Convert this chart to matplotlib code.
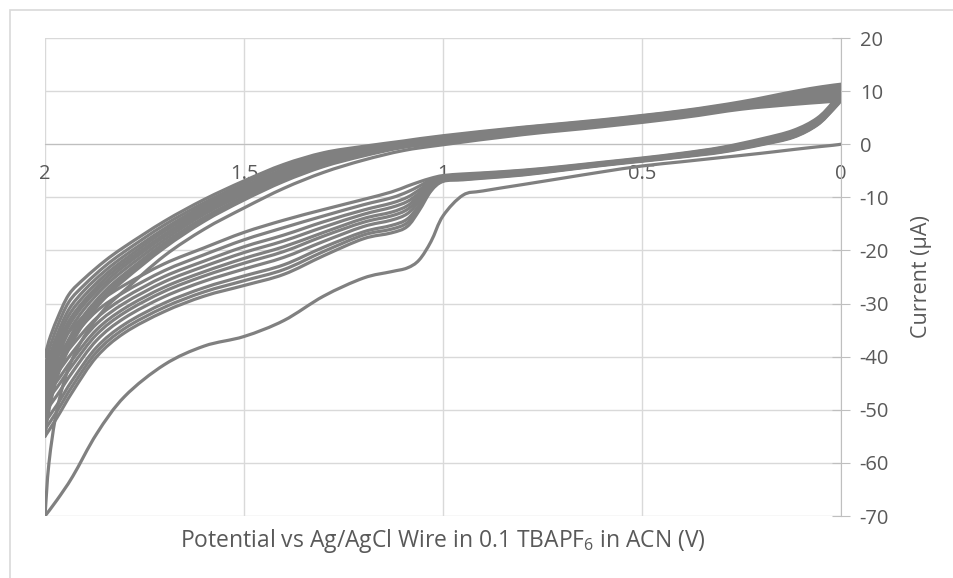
import numpy as np
import matplotlib
matplotlib.use("Agg")
import matplotlib.pyplot as plt
from matplotlib.patches import Rectangle, PathPatch
from matplotlib.path import Path

plt.rcParams['font.family'] = ['Open Sans', 'DejaVu Sans']
plt.rcParams['axes.unicode_minus'] = False

# potential grid (V) for the scan towards 2 V and back to 0 V
fwd_x = [0.0, 0.02, 0.06, 0.12, 0.2, 0.3, 0.4, 0.5, 0.6, 0.7, 0.8, 0.9, 0.95, 1.0,
         1.03, 1.06, 1.09, 1.13, 1.2, 1.3, 1.4, 1.5, 1.6, 1.7, 1.8, 1.87, 1.93, 1.97, 2.0]
rev_x = [2.0, 1.99, 1.97, 1.94, 1.9, 1.85, 1.8, 1.7, 1.6, 1.5, 1.4, 1.3, 1.2, 1.1, 1.0,
         0.8, 0.6, 0.4, 0.25, 0.12, 0.05, 0.0]

# current (uA), cycle 1 .. 11
c1_fwd = [0.0, -0.2, -0.5, -1.0, -1.7, -2.5, -3.3, -4.1, -5.2, -6.4, -7.6, -8.8, -9.6, -13.5,
          -18.3, -21.8, -23.3, -24.0, -25.2, -28.6, -33.2, -36.2, -38.0, -41.5, -47.5, -54.5, -62.5, -67.0, -70.0]
c1_rev = [-70, -60, -50, -42, -36, -31, -27.5, -21, -16, -12, -8.3, -5.3, -3.0, -1.2, -0.1,
          1.8, 3.3, 5.0, 6.6, 7.5, 7.9, 8.2]

c2_fwd = [8.2, 6.5, 3.6, 1.3, -0.1, -1.5, -2.4, -3.2, -4.0, -4.9, -5.8, -6.4, -6.7, -7.0,
          -8.8, -12.5, -15.5, -16.7, -17.8, -21.0, -24.5, -26.6, -28.6, -31.5, -35.5, -40.0, -46.5, -51.5, -55.0]
c2_rev = [-55.0, -50.0, -44.0, -38.5, -33.5, -29.0, -25.5, -19.5, -14.5, -10.5, -7.0, -4.2, -2.2, -0.6, 0.3,
          2.2, 3.6, 5.3, 6.9, 7.7, 8.1, 8.4]

c3_fwd = [8.4, 6.6, 3.7, 1.4, 0.0, -1.4, -2.3, -3.1, -3.9, -4.8, -5.7, -6.3, -6.6, -6.9,
          -8.6, -12.0, -14.8, -16.0, -17.1, -20.2, -23.6, -25.7, -27.8, -30.7, -34.7, -39.1, -45.4, -50.3, -53.7]
c3_rev = [-53.7, -48.8, -43.0, -37.6, -32.8, -28.4, -24.9, -19.1, -14.1, -10.2, -6.7, -4.0, -2.0, -0.5, 0.4,
          2.3, 3.7, 5.4, 7.0, 7.9, 8.3, 8.7]

c4_fwd = [8.7, 6.8, 3.8, 1.5, 0.1, -1.3, -2.3, -3.1, -3.9, -4.8, -5.6, -6.2, -6.5, -6.8,
          -8.4, -11.5, -14.1, -15.3, -16.5, -19.4, -22.7, -24.8, -27.0, -29.9, -33.9, -38.2, -44.3, -49.1, -52.3]
c4_rev = [-52.3, -47.7, -42.0, -36.7, -32.0, -27.7, -24.4, -18.6, -13.8, -9.9, -6.4, -3.7, -1.9, -0.4, 0.5,
          2.4, 3.8, 5.5, 7.1, 8.1, 8.6, 9.0]

c5_fwd = [9.0, 7.0, 4.0, 1.7, 0.2, -1.2, -2.2, -3.0, -3.8, -4.7, -5.5, -6.1, -6.4, -6.7,
          -8.1, -10.8, -13.1, -14.3, -15.5, -18.3, -21.3, -23.5, -25.8, -28.7, -32.7, -36.9, -42.8, -47.3, -50.4]
c5_rev = [-50.4, -46.0, -40.6, -35.3, -30.9, -26.8, -23.6, -18.0, -13.2, -9.4, -6.0, -3.4, -1.6, -0.2, 0.7,
          2.5, 3.9, 5.6, 7.2, 8.4, 8.9, 9.4]

c6_fwd = [9.4, 7.1, 4.1, 1.8, 0.4, -1.1, -2.1, -2.9, -3.7, -4.6, -5.4, -6.0, -6.2, -6.5,
          -7.8, -10.2, -12.3, -13.5, -14.7, -17.3, -20.2, -22.4, -24.8, -27.7, -31.7, -35.8, -41.5, -45.8, -48.7]
c6_rev = [-48.7, -44.5, -39.4, -34.2, -30.0, -26.1, -22.9, -17.4, -12.8, -9.0, -5.7, -3.1, -1.4, -0.1, 0.8,
          2.6, 4.0, 5.7, 7.4, 8.6, 9.2, 9.7]

c7_fwd = [9.7, 7.3, 4.3, 2.0, 0.5, -1.0, -2.0, -2.9, -3.7, -4.5, -5.3, -5.9, -6.1, -6.4,
          -7.6, -9.7, -11.6, -12.8, -14.0, -16.6, -19.3, -21.5, -24.0, -26.9, -30.9, -34.9, -40.4, -44.6, -47.4]
c7_rev = [-47.4, -43.4, -38.4, -33.3, -29.3, -25.4, -22.3, -17.0, -12.4, -8.7, -5.4, -2.9, -1.3, 0.0, 1.0,
          2.7, 4.1, 5.8, 7.5, 8.8, 9.5, 10.0]

c8_fwd = [10.0, 7.4, 4.4, 2.1, 0.6, -0.9, -2.0, -2.8, -3.6, -4.5, -5.2, -5.8, -6.0, -6.3,
          -7.3, -9.2, -10.8, -11.9, -13.2, -15.6, -18.2, -20.4, -23.0, -25.9, -29.9, -33.8, -39.1, -43.1, -45.7]
c8_rev = [-45.7, -41.9, -37.2, -32.2, -28.4, -24.7, -21.7, -16.4, -12.0, -8.3, -5.0, -2.6, -1.1, 0.1, 1.1,
          2.8, 4.2, 5.9, 7.6, 9.1, 9.8, 10.4]

c9_fwd = [10.4, 7.6, 4.5, 2.2, 0.7, -0.8, -1.9, -2.8, -3.6, -4.4, -5.1, -5.7, -5.9, -6.2,
          -7.0, -8.6, -10.0, -11.1, -12.4, -14.6, -17.1, -19.3, -22.0, -24.9, -28.9, -32.7, -37.7, -41.6, -44.1]
c9_rev = [-44.1, -40.5, -36.0, -31.1, -27.4, -23.9, -21.0, -15.9, -11.5, -7.9, -4.7, -2.3, -0.9, 0.3, 1.2,
          2.9, 4.3, 6.0, 7.7, 9.3, 10.1, 10.7]

c10_fwd = [10.7, 7.8, 4.7, 2.4, 0.8, -0.7, -1.8, -2.7, -3.5, -4.3, -5.0, -5.5, -5.8, -6.1,
           -6.7, -7.9, -9.0, -10.1, -11.4, -13.5, -15.7, -18.0, -20.8, -23.8, -27.8, -31.4, -36.2, -39.9, -42.1]
c10_rev = [-42.1, -38.8, -34.5, -29.7, -26.4, -23.0, -20.2, -15.2, -11.0, -7.4, -4.2, -2.0, -0.7, 0.4, 1.4,
           3.1, 4.5, 6.2, 7.8, 9.6, 10.4, 11.0]

c11_fwd = [11.0, 8.0, 4.9, 2.6, 1.0, -0.6, -1.7, -2.6, -3.4, -4.2, -4.9, -5.4, -5.6, -5.9,
           -6.4, -7.1, -7.9, -9.0, -10.4, -12.3, -14.3, -16.6, -19.5, -22.5, -26.5, -30.0, -34.5, -38.0, -40.0]
c11_rev = [-40.0, -37.0, -33.0, -28.3, -25.2, -22.0, -19.3, -14.5, -10.4, -6.9, -3.8, -1.6, -0.4, 0.6, 1.6,
           3.2, 4.6, 6.3, 8.0, 9.9, 10.8, 11.3]

cycles = [(c1_fwd, c1_rev), (c2_fwd, c2_rev), (c3_fwd, c3_rev), (c4_fwd, c4_rev),
          (c5_fwd, c5_rev), (c6_fwd, c6_rev), (c7_fwd, c7_rev), (c8_fwd, c8_rev),
          (c9_fwd, c9_rev), (c10_fwd, c10_rev), (c11_fwd, c11_rev)]


def smooth_path(x, y):
    # smoothed line like the spreadsheet's: bezier segments through every point
    p = np.column_stack([x, y]).astype(float)
    n = len(p)
    verts, codes = [p[0]], [Path.MOVETO]
    for i in range(n - 1):
        p0 = p[i - 1] if i > 0 else p[i]
        p3 = p[i + 2] if i + 2 < n else p[i + 1]
        verts += [p[i] + (p[i + 1] - p0) / 6, p[i + 1] - (p3 - p[i]) / 6, p[i + 1]]
        codes += [Path.CURVE4] * 3
    return Path(verts, codes)


fig = plt.figure(figsize=(9.54, 5.78), dpi=100)
ax = fig.add_axes([45 / 954, 1 - 516 / 578, (841 - 45) / 954, (516 - 38) / 578])

txt = '#595959'
grid = '#d9d9d9'
axc = '#bfbfbf'

for f, r in cycles:
    for seg in (smooth_path(fwd_x, f), smooth_path(rev_x, r)):
        ax.add_patch(PathPatch(seg, fill=False, edgecolor='#808080', lw=2.3,
                               joinstyle='round', capstyle='round', zorder=3))

ax.set_xlim(2, 0)
ax.set_ylim(-70, 20)
ax.set_xticks([2, 1.5, 1, 0.5, 0])
ax.set_xticklabels(['2', '1.5', '1', '0.5', '0'])
ax.set_yticks(np.arange(-70, 21, 10))

ax.grid(True, color=grid, lw=1, zorder=0)
ax.set_axisbelow(True)

ax.spines['left'].set_visible(False)
ax.spines['top'].set_visible(False)
ax.spines['right'].set_color(axc)
ax.spines['bottom'].set_position(('data', 0))
ax.spines['bottom'].set_color(axc)

ax.yaxis.tick_right()
ax.tick_params(axis='y', direction='inout', length=13, color=axc, pad=7,
               labelsize=14.5, labelcolor=txt)
ax.tick_params(axis='x', length=0, pad=14, labelsize=14.5, labelcolor=txt)

ax.yaxis.set_label_position('right')
ax.set_ylabel('Current (μA)', fontsize=15.5, color=txt, labelpad=16)
ax.text(0.5, -0.053, r'Potential vs Ag/AgCl Wire in 0.1 TBAPF$_{\mathregular{6}}$ in ACN (V)',
        transform=ax.transAxes, ha='center', va='center', fontsize=16.5, color=txt)

fig.patches.append(Rectangle((10 / 954, -0.1), 1.2, 1.1 - 10 / 578, transform=fig.transFigure,
                             fill=False, edgecolor=grid, lw=1.2))

fig.savefig('out.png', dpi=100)
